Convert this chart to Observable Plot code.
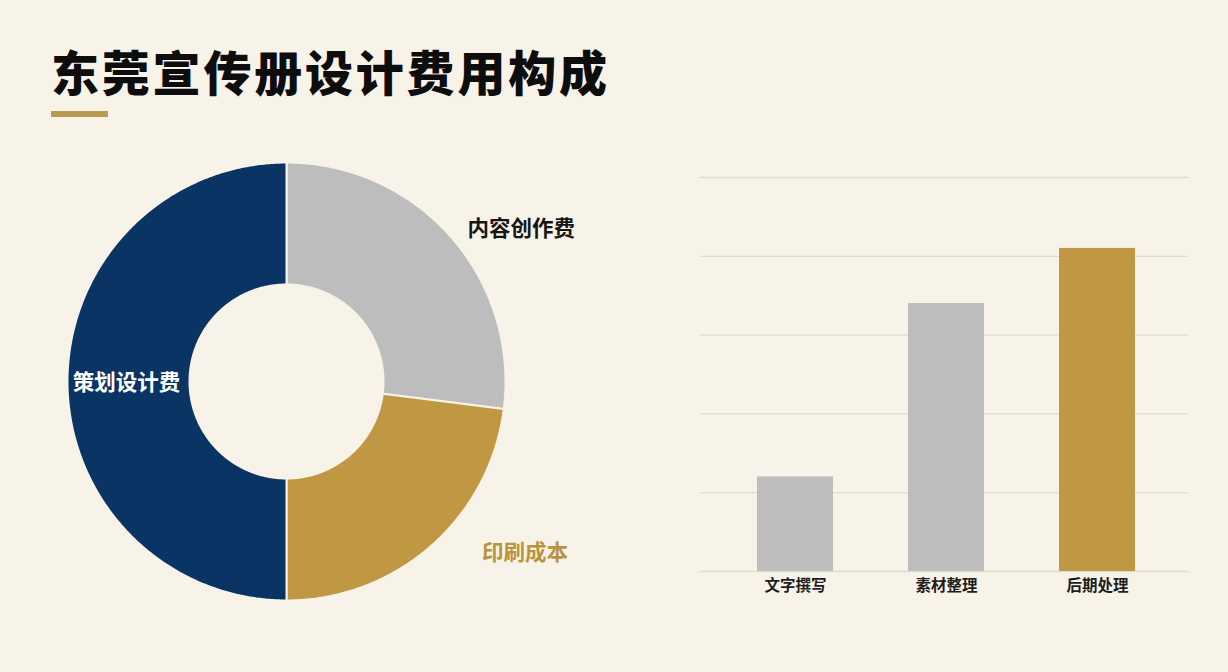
<!DOCTYPE html>
<html><head><meta charset="utf-8">
<script src="https://cdn.jsdelivr.net/npm/d3@7"></script>
<script src="https://cdn.jsdelivr.net/npm/@observablehq/plot@0.6"></script>
<style>
body{margin:0;background:#f8f3e8;}
#page{position:relative;width:1228px;height:672px;overflow:hidden;background:#f8f3e8;font-family:"Noto Sans CJK SC",sans-serif;}
#title{position:absolute;left:51px;top:46px;font-size:48px;font-weight:900;line-height:48px;letter-spacing:2.8px;color:#0d0d0d;white-space:nowrap;}
#rule{position:absolute;left:51px;top:111px;width:57px;height:6px;background:#b8994f;}
#donut{position:absolute;left:46px;top:151px;}
#bars{position:absolute;left:680px;top:160px;}
</style></head><body>
<div id="page">
<div id="title"></div>
<div id="rule"></div>
<div id="donut"></div>
<div id="bars"></div>
</div>
<script>
// ---- data ----
const titleText = "东莞宣传册设计费用构成";
const pieNames = ["内容创作费", "印刷成本", "策划设计费"];
const pieValues = [27, 23, 50];
const barNames = ["文字撰写", "素材整理", "后期处理"];
const barValues = [12, 34, 41];
const gridTicks = [0, 10, 20, 30, 40, 50];

// ---- styles ----
const pieColors = ["#bdbdbd", "#c09843", "#0a3463"];
const barColors = ["#bdbdbd", "#bdbdbd", "#c09843"];
const bg = "#f8f3e8";
const R0 = 97, R1 = 219;
const labelStyle = {
  "内容创作费": {r: 232, dx: 7, dy: 1, fill: "#161616", anchor: "start"},
  "印刷成本": {r: 232, dx: 42, dy: -2, fill: "#b8943f", anchor: "start"},
  "策划设计费": {r: 158, dx: -2, dy: 2, fill: "#ffffff", anchor: "middle"}
};

document.getElementById("title").textContent = titleText;

// ---- donut ----
const total = d3.sum(pieValues);
let acc = 0;
const slices = pieNames.map((name, i) => {
  const a0 = acc / total * 2 * Math.PI;
  acc += pieValues[i];
  const a1 = acc / total * 2 * Math.PI;
  return {name, a0, a1, mid: (a0 + a1) / 2};
});
const pts = [];
for (const s of slices) {
  const n = Math.max(2, Math.ceil((s.a1 - s.a0) / (Math.PI / 360)));
  for (let k = 0; k <= n; k++) {
    const a = s.a0 + (s.a1 - s.a0) * k / n;
    pts.push({name: s.name, x: R1 * Math.sin(a), y: R1 * Math.cos(a)});
  }
  for (let k = n; k >= 0; k--) {
    const a = s.a0 + (s.a1 - s.a0) * k / n;
    pts.push({name: s.name, x: R0 * Math.sin(a), y: R0 * Math.cos(a)});
  }
}
const labels = slices.map(s => {
  const st = labelStyle[s.name];
  return {name: s.name, x: st.r * Math.sin(s.mid), y: st.r * Math.cos(s.mid)};
});

const donut = Plot.plot({
  width: 560, height: 460,
  margin: 0,
  style: {background: "transparent", fontFamily: "'Noto Sans CJK SC', sans-serif"},
  x: {domain: [-240, 320], axis: null},
  y: {domain: [-230, 230], axis: null},
  color: {domain: pieNames, range: pieColors},
  marks: [
    Plot.line(pts, {x: "x", y: "y", z: "name", fill: "name", stroke: bg, strokeWidth: 2, curve: "linear-closed"}),
    ...labels.map(l => {
      const st = labelStyle[l.name];
      return Plot.text([l], {x: "x", y: "y", text: "name", dx: st.dx, dy: st.dy, fill: st.fill,
        textAnchor: st.anchor, fontSize: 21.5, fontWeight: 700});
    })
  ]
});
document.getElementById("donut").append(donut);

// ---- bars ----
const barRows = barNames.map((name, i) => ({name, value: barValues[i]}));
const bars = Plot.plot({
  width: 528, height: 450,
  marginLeft: 20, marginRight: 20, marginTop: 17, marginBottom: 39,
  style: {background: "transparent", fontFamily: "'Noto Sans CJK SC', sans-serif"},
  x: {domain: barNames, paddingInner: 0.5, paddingOuter: 0.25, insetLeft: 19, insetRight: 16, label: null},
  y: {domain: [0, 50], axis: null},
  color: {domain: barNames, range: barColors},
  marks: [
    Plot.ruleY(gridTicks, {stroke: "#e0dbcf", strokeWidth: 1.3}),
    Plot.barY(barRows, {x: "name", y: "value", fill: "name"}),
    Plot.axisX({tickSize: 0, tickPadding: 8, fontSize: 15.5, fontWeight: 700, fill: "#1e1e1e", label: null})
  ]
});
document.getElementById("bars").append(bars);
</script>
</body></html>
